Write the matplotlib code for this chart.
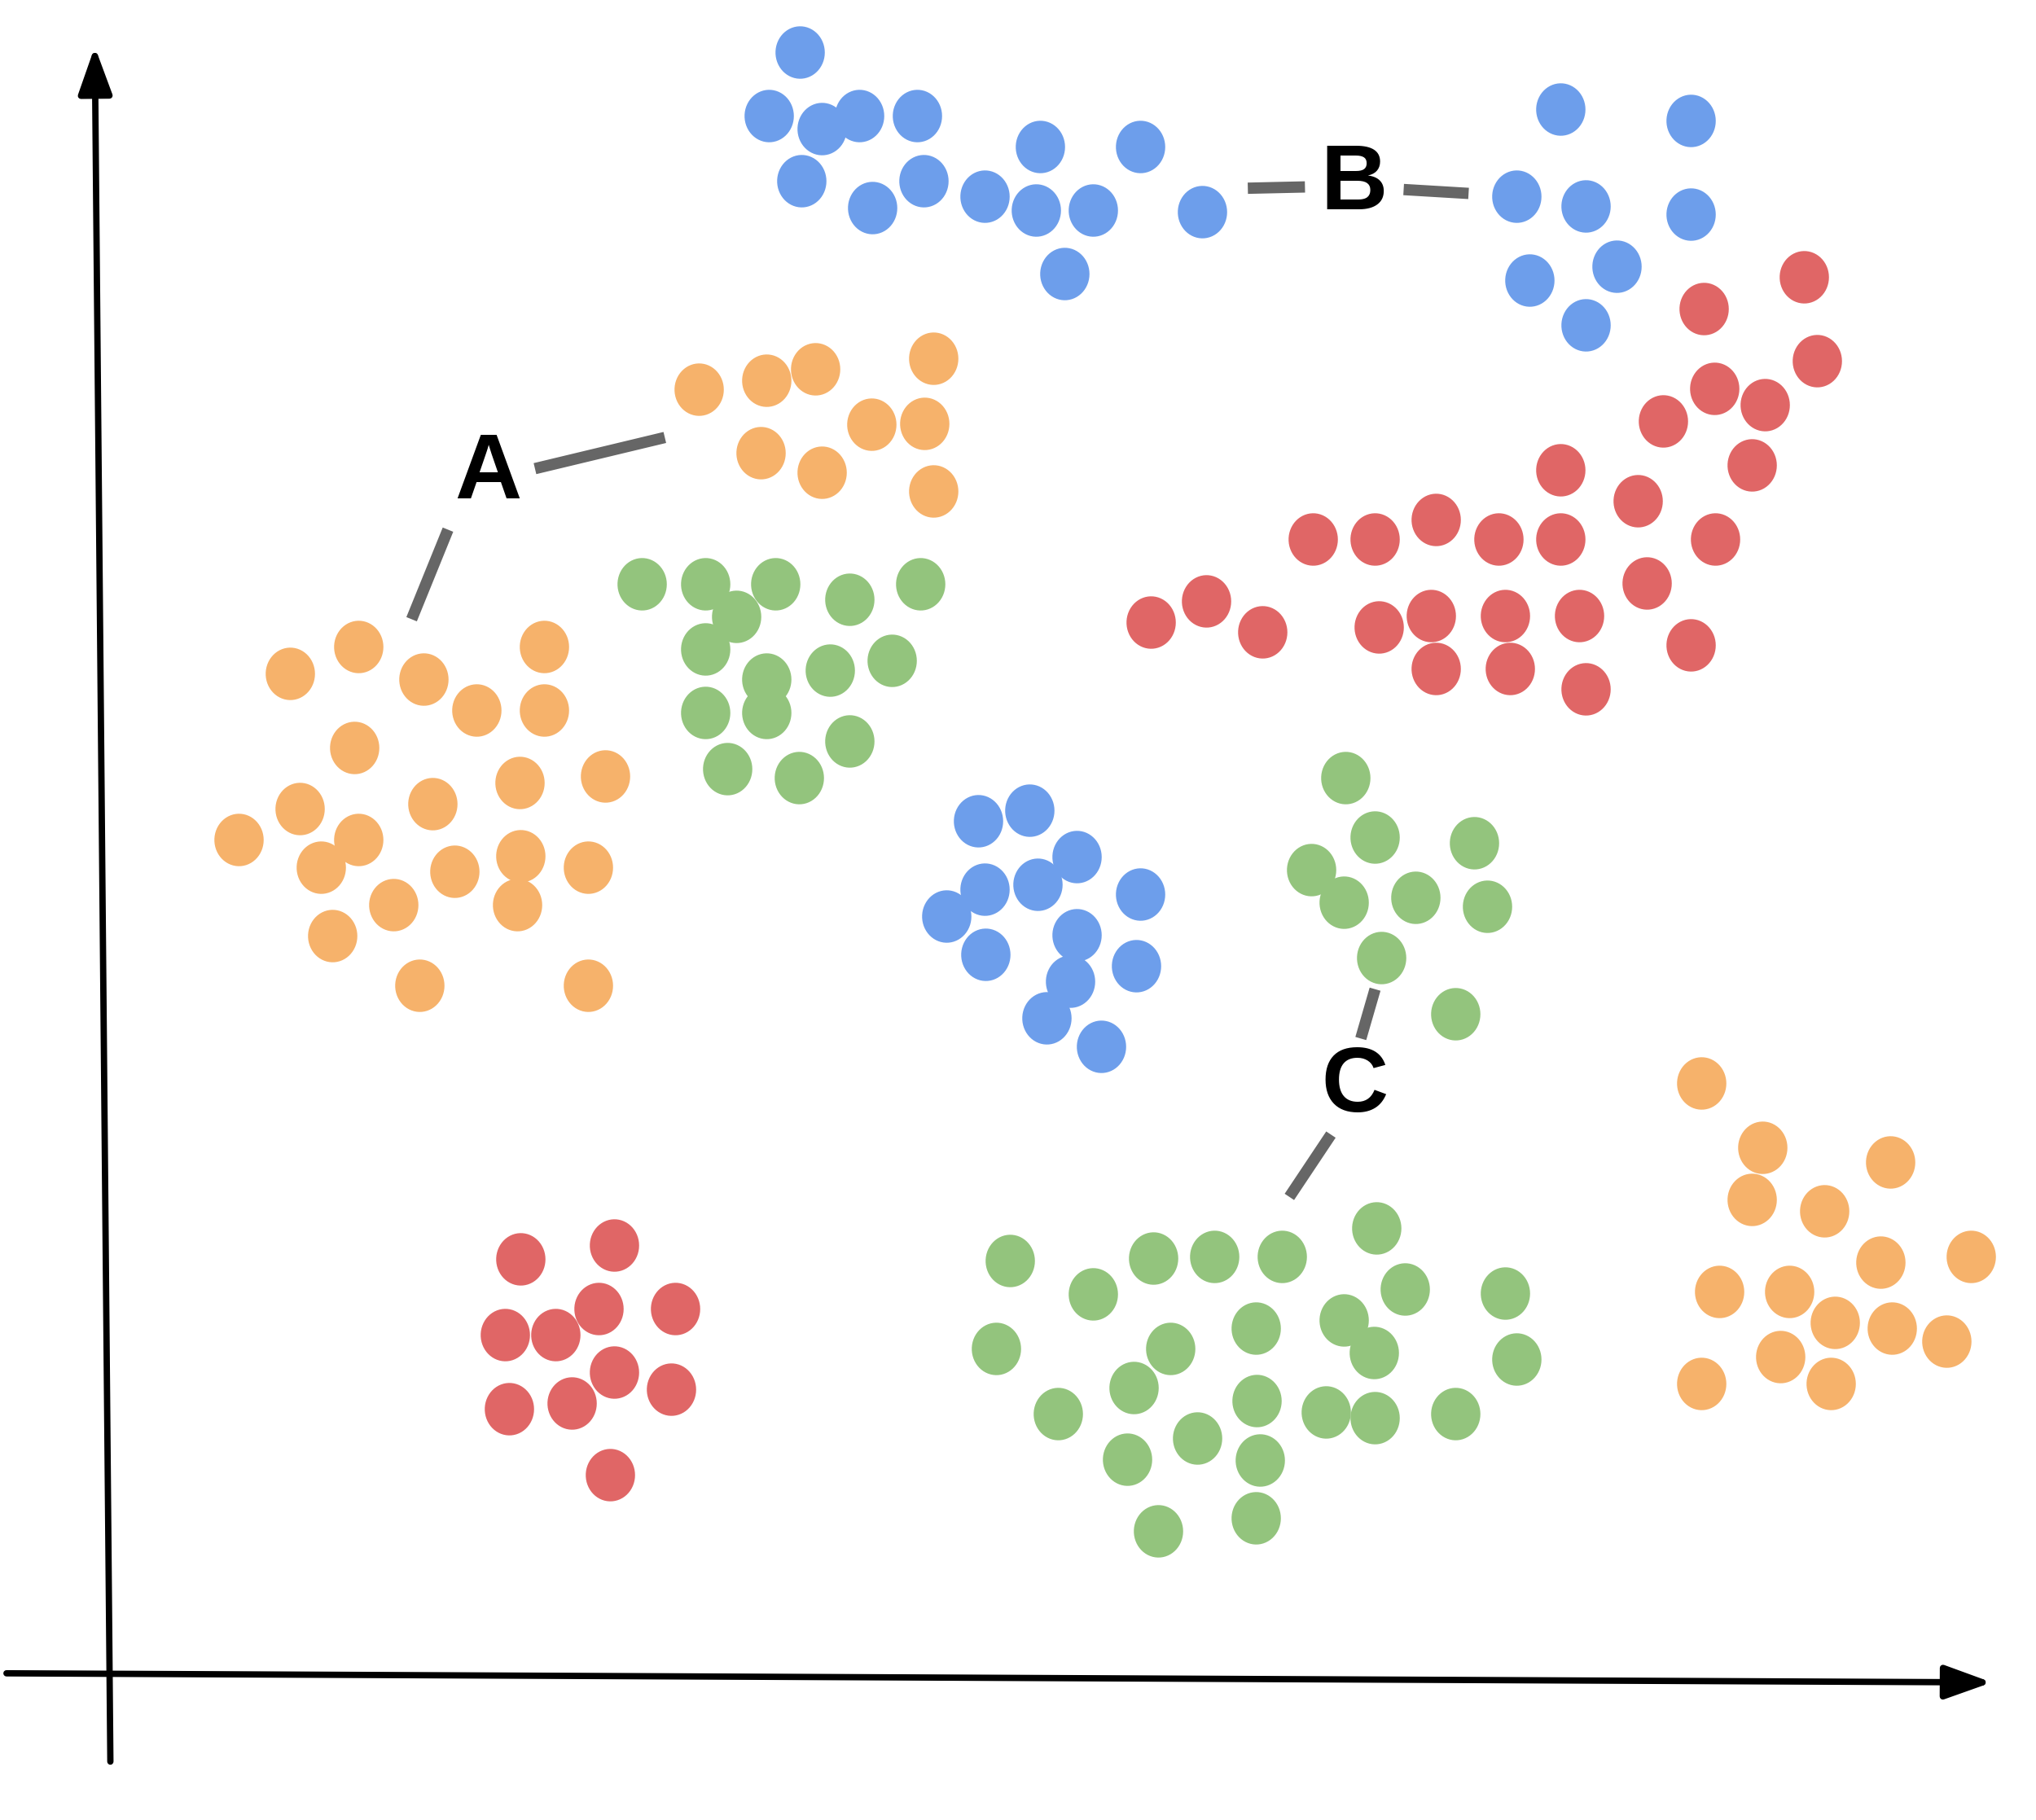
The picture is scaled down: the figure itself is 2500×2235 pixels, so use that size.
import matplotlib.pyplot as plt
import numpy as np
from matplotlib.path import Path

plt.rcParams['font.family'] = ['Liberation Sans', 'DejaVu Sans']

# point positions (x to the right, y downward)
blue_x = [616, 592, 633, 662, 706, 617, 672, 711, 758, 801, 798, 842, 878, 820, 926,
          1202, 1302, 1168, 1221, 1302, 1245, 1178, 1221,
          753, 793, 829, 758, 799, 878, 729, 829, 759, 875, 824, 806, 848]
blue_y = [40, 89, 99, 89, 89, 139, 160, 139, 151, 113, 162, 162, 113, 211, 163,
          84, 93, 151, 159, 165, 205, 216, 250,
          632, 624, 660, 685, 681, 689, 706, 720, 735, 744, 756, 784, 806]

orange_x = [538, 590, 628, 719, 671, 712, 586, 633, 719,
            223, 276, 326, 419, 367, 419, 273, 466, 400, 231, 333, 184, 276, 247, 350,
            401, 453, 303, 398, 256, 323, 453,
            1310, 1357, 1456, 1349, 1405, 1448, 1518, 1324, 1378, 1413, 1457, 1499,
            1371, 1310, 1410]
orange_y = [300, 293, 284, 276, 327, 326, 349, 364, 378,
            519, 498, 523, 498, 547, 547, 576, 598, 603, 623, 619, 647, 647, 668, 671,
            659, 668, 697, 697, 721, 759, 759,
            834, 884, 895, 924, 933, 972, 968, 995, 995, 1019, 1023, 1033,
            1045, 1066, 1066]

green_x = [494, 543, 597, 654, 709, 567, 543, 590, 639, 687, 543, 590, 654, 560, 615,
           1036, 1059, 1135, 1010, 1035, 1090, 1145, 1064, 1121,
           778, 842, 888, 935, 987, 1060, 1082, 1159, 767, 901, 967, 1035, 1058, 1168,
           873, 968, 815, 1021, 1059, 1121, 922, 868, 970, 892, 967]
green_y = [450, 450, 450, 462, 450, 475, 500, 523, 516, 509, 549, 549, 571, 592, 599,
           599, 645, 649, 670, 695, 691, 698, 738, 781,
           971, 997, 969, 968, 968, 946, 993, 996, 1039, 1039, 1023, 1017, 1042, 1047,
           1069, 1079, 1089, 1088, 1092, 1089, 1108, 1124, 1125, 1179, 1169]

red_x = [1389, 1312, 1399, 1320, 1359, 1281, 1349, 1202, 1261, 1011, 1059, 1106, 1154,
         1202, 1321, 1268, 886, 929, 972, 1062, 1102, 1159, 1216, 1302, 1106, 1163, 1221,
         401, 473, 389, 428, 461, 520, 473, 392, 440, 517, 470]
red_y = [213, 238, 278, 299, 312, 324, 358, 362, 386, 415, 415, 400, 415,
         415, 415, 449, 479, 463, 487, 483, 474, 474, 474, 497, 515, 515, 531,
         970, 959, 1028, 1028, 1008, 1008, 1057, 1085, 1081, 1070, 1136]

# labels and their leader lines
labels = ['A', 'B', 'C']
label_x = [376, 1043, 1043]
label_y = [366, 143, 838]
leaders = [((412, 512), (361, 337)), ((345, 317), (408, 477)),
           ((961, 1005), (145, 144)), ((1081, 1131), (146, 149)),
           ((1059, 1048), (762, 800)), ((1025, 993), (874, 922))]

colors = {'blue': '#6d9eeb', 'orange': '#f6b26b', 'green': '#93c47d', 'red': '#e06666'}

# slightly tall ellipse marker
t = np.linspace(0, 2 * np.pi, 60)
ell = Path(np.column_stack([0.94 * np.cos(t), np.sin(t)]), closed=True)

fig = plt.figure(figsize=(25, 22.35), dpi=100)
ax = fig.add_axes([0, 0, 1, 1])
ax.set_xlim(0, 1568)
ax.set_ylim(1402, 0)
ax.axis('off')

for xs, ys, c in [(blue_x, blue_y, 'blue'), (orange_x, orange_y, 'orange'),
                  (green_x, green_y, 'green'), (red_x, red_y, 'red')]:
    ax.scatter(xs, ys, s=2150, marker=ell, color=colors[c], linewidths=0)

for xs, ys in leaders:
    ax.plot(xs, ys, color='#666666', lw=10, solid_capstyle='butt')

for lab, x, y in zip(labels, label_x, label_y):
    ax.text(x, y, lab, fontsize=82, fontweight='bold', ha='center', va='center')

# hand-drawn axes
arrow = dict(arrowstyle='-|>,head_length=1.0,head_width=0.36', color='black',
             lw=5.6, mutation_scale=35, shrinkA=0, shrinkB=0)
ax.annotate('', xy=(73, 36), xytext=(85, 1357), arrowprops=arrow)
ax.annotate('', xy=(1534, 1296), xytext=(5, 1289), arrowprops=arrow)

fig.savefig('out.png', dpi=100)
